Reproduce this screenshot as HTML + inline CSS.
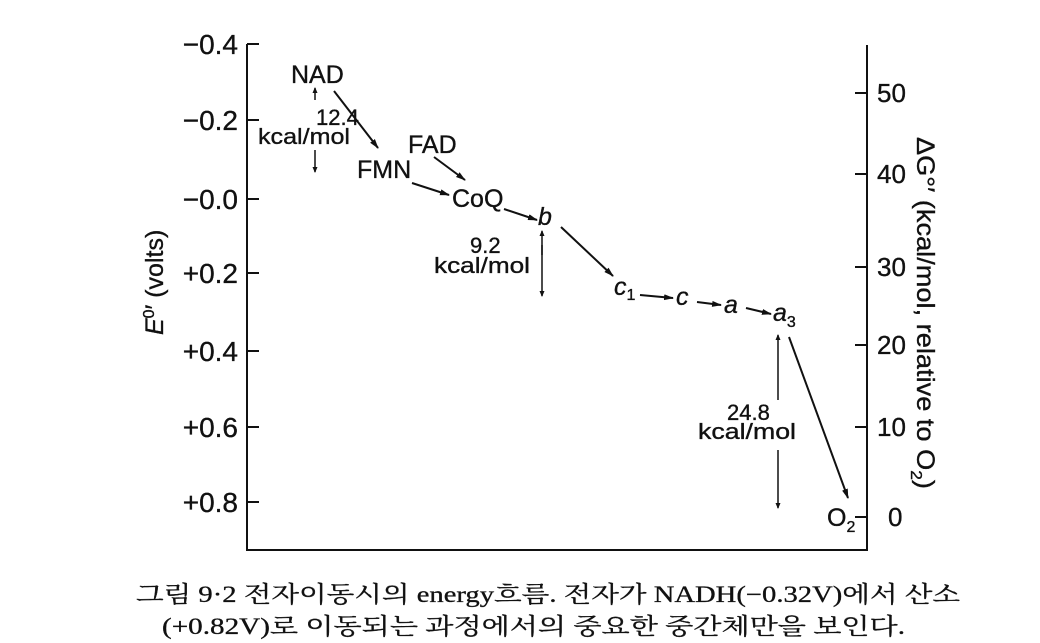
<!DOCTYPE html>
<html><head><meta charset="utf-8"><style>
body{margin:0;background:#fff;}
svg{display:block}
.t{font-family:"Liberation Sans",Arial,sans-serif;fill:#111;stroke:#111;stroke-width:0.35;}
.c{font-family:"Liberation Serif","Noto Serif CJK KR","Noto Serif CJK SC",serif;fill:#111;font-size:23px;stroke:#111;stroke-width:0.3;}
.s28{font-size:28px}.s26{font-size:26px}.s25{font-size:25px}.s22{font-size:22px}.s16{font-size:16px}
</style></head><body>
<svg width="1040" height="643" viewBox="0 0 1040 643">
<defs><marker id="ah" markerWidth="10" markerHeight="8" refX="9" refY="4" orient="auto" markerUnits="userSpaceOnUse"><path d="M0,1 L10,4 L0,7 Z" fill="#111"/></marker>
<marker id="sa" markerWidth="6" markerHeight="6" refX="5" refY="3" orient="auto" markerUnits="userSpaceOnUse"><path d="M0,0.5 L6,3 L0,5.5 Z" fill="#111"/></marker></defs>
<g stroke="#111" stroke-width="2" fill="none">
<path d="M247,44 V550 H867 V45"/>
<path d="M247,44 H259 M247,120 H259 M247,199 H259 M247,273 H259 M247,351 H259 M247,427 H259 M247,502 H259"/>
<path d="M855,93 H867 M855,174 H867 M855,267 H867 M855,345 H867 M855,427 H867 M855,517 H867"/>
</g>
<g text-anchor="end">
<text class="t s28" x="238" y="54">−0.4</text><text class="t s28" x="238" y="130">−0.2</text><text class="t s28" x="238" y="209">−0.0</text>
<text class="t s28" x="238" y="283">+0.2</text><text class="t s28" x="238" y="361">+0.4</text><text class="t s28" x="238" y="437">+0.6</text><text class="t s28" x="238" y="512">+0.8</text>
</g>
<g>
<text class="t s26" x="877" y="102">50</text><text class="t s26" x="877" y="183">40</text><text class="t s26" x="877" y="276">30</text>
<text class="t s26" x="877" y="354">20</text><text class="t s26" x="877" y="436">10</text><text class="t s26" x="888" y="526">0</text>
</g>
<text class="t s25" transform="translate(163,335) rotate(-90)"><tspan font-style="italic">E</tspan><tspan class="s16" dy="-9">0</tspan><tspan dy="9">′ (volts)</tspan></text>
<text class="t s25" transform="translate(917,137) rotate(90)" textLength="352" lengthAdjust="spacingAndGlyphs">ΔG°′ (kcal/mol, relative to O<tspan class="s16" dy="6">2</tspan><tspan dy="-6">)</tspan></text>
<g>
<text class="t s25" x="291" y="83">NAD</text>
<text class="t s22" x="316" y="125">12.4</text>
<text class="t s22" x="258" y="144" textLength="92" lengthAdjust="spacingAndGlyphs">kcal/mol</text>
<text class="t s25" x="357" y="178">FMN</text>
<text class="t s25" x="408" y="153">FAD</text>
<text class="t s25" x="452" y="207">CoQ</text>
<text class="t s25" x="538" y="225" font-style="italic">b</text>
<text class="t s22" x="470" y="253">9.2</text>
<text class="t s22" x="434" y="273" textLength="96" lengthAdjust="spacingAndGlyphs">kcal/mol</text>
<text class="t s25" x="614" y="295" font-style="italic">c<tspan class="s16" dy="5" font-style="normal">1</tspan></text>
<text class="t s25" x="676" y="305" font-style="italic">c</text>
<text class="t s25" x="724" y="313" font-style="italic">a</text>
<text class="t s25" x="773" y="321" font-style="italic">a<tspan class="s16" dy="6" font-style="normal">3</tspan></text>
<text class="t s22" x="727" y="420">24.8</text>
<text class="t s22" x="698" y="439" textLength="98" lengthAdjust="spacingAndGlyphs">kcal/mol</text>
<text class="t s25" x="827" y="526">O<tspan class="s16" dy="6">2</tspan></text>
</g>
<g stroke="#111" stroke-width="2" fill="none" marker-end="url(#ah)">
<path d="M334,91 L378,148"/>
<path d="M412,183 L449,195"/>
<path d="M434,157 L465,180"/>
<path d="M504,209 L537,220"/>
<path d="M561,227 L613,276"/>
<path d="M640,295 L673,298"/>
<path d="M697,302 L721,305"/>
<path d="M746,308 L771,314"/>
<path d="M789,337 L848,498"/>
</g>
<g stroke="#111" stroke-width="1.5" fill="none" marker-end="url(#sa)">
<path d="M315,100 L315,88"/><path d="M315,150 L315,172"/>
<path d="M542,255 L542,231"/><path d="M542,245 L542,296"/>
<path d="M778,400 L778,335"/><path d="M778,450 L778,508"/>
</g>
<text class="c" x="136" y="602" textLength="824" lengthAdjust="spacingAndGlyphs">그림 9·2  전자이동시의 energy흐름. 전자가 NADH(−0.32V)에서 산소</text>
<text class="c" x="162" y="634" textLength="743" lengthAdjust="spacingAndGlyphs">(+0.82V)로 이동되는 과정에서의 중요한 중간체만을 보인다.</text>
</svg>
</body></html>
